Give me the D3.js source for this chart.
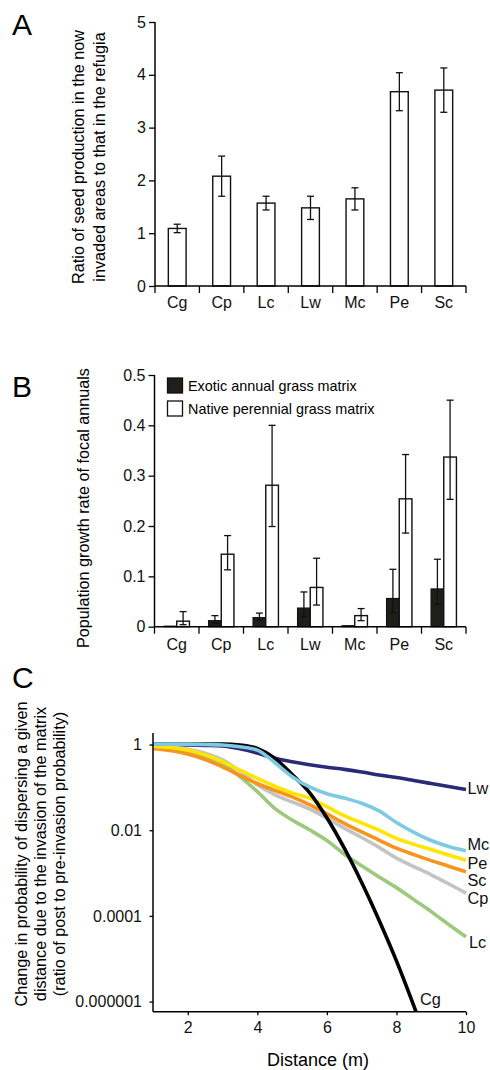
<!DOCTYPE html>
<html><head><meta charset="utf-8">
<script src="https://cdn.jsdelivr.net/npm/d3@7"></script>
<style>
html,body{margin:0;padding:0;background:#fff;}
svg{display:block;font-family:"Liberation Sans",Arial,Helvetica,sans-serif;}
</style></head>
<body><svg id="chart" width="490" height="1070"></svg>
<script>
// ---------- Data ----------
const species = ["Cg","Cp","Lc","Lw","Mc","Pe","Sc"];

// Panel A: ratio of seed production (invaded / refugia)
const ratioMean = [1.09, 2.08, 1.57, 1.48, 1.65, 3.68, 3.71];
const ratioErr  = [0.08, 0.38, 0.13, 0.22, 0.21, 0.36, 0.42];
const ticksA = [0,1,2,3,4,5];

// Panel B: population growth rate
const exoticMean = [0.001, 0.012, 0.018, 0.037, 0.002, 0.056, 0.075];
const exoticLow  = [null, 0.007, 0.013, 0.019, null, 0.028, 0.044];
const exoticHigh = [null, 0.022, 0.027, 0.069, null, 0.114, 0.134];
const nativeMean = [0.011, 0.144, 0.281, 0.078, 0.022, 0.254, 0.337];
const nativeLow  = [0.004, 0.113, 0.199, 0.043, 0.012, 0.186, 0.253];
const nativeHigh = [0.030, 0.181, 0.400, 0.136, 0.036, 0.342, 0.450];
const ticksB = [0,0.1,0.2,0.3,0.4,0.5];
const legendB = ["Exotic annual grass matrix","Native perennial grass matrix"];

// Panel C: change in dispersal probability (log10 of ratio) vs distance
const distance = [1, 2, 2.5, 3, 3.5, 4, 4.5, 5, 5.5, 6, 6.5, 7, 7.5, 8, 8.5, 9, 9.5, 10];
const curveNames = ["Lw","Lc","Cp","Sc","Pe","Cg","Mc"];
const logLw = [0.0, -0.01, -0.02, -0.035, -0.1, -0.2, -0.32, -0.4, -0.47, -0.53, -0.58, -0.64, -0.71, -0.77, -0.84, -0.91, -0.98, -1.05];
const logLc = [-0.05, -0.17, -0.28, -0.44, -0.75, -1.1, -1.49, -1.76, -1.99, -2.24, -2.56, -2.83, -3.09, -3.34, -3.62, -3.9, -4.2, -4.49];
const logCp = [-0.01, -0.11, -0.2, -0.36, -0.62, -0.94, -1.17, -1.34, -1.5, -1.72, -1.95, -2.17, -2.4, -2.65, -2.85, -3.04, -3.25, -3.47];
const logSc = [-0.09, -0.22, -0.35, -0.52, -0.72, -0.91, -1.07, -1.22, -1.4, -1.62, -1.84, -2.04, -2.23, -2.42, -2.57, -2.71, -2.84, -2.97];
const logPe = [-0.04, -0.13, -0.24, -0.4, -0.6, -0.79, -0.97, -1.13, -1.25, -1.45, -1.66, -1.83, -2.0, -2.19, -2.33, -2.45, -2.58, -2.7];
const logCg = [0.01, 0.01, 0.01, 0.01, -0.01, -0.09, -0.32, -0.7, -1.12, -1.71, -2.42, -3.22, -4.1, -5.05, -6.1, -7.2, -8.3, -9.4];
const logMc = [0.01, 0.01, 0.0, -0.01, -0.05, -0.13, -0.42, -0.75, -0.99, -1.15, -1.25, -1.37, -1.55, -1.82, -2.05, -2.24, -2.38, -2.48];
const curveColors = {Lw:"#2a2a78", Lc:"#9cc97b", Cp:"#c3c3c3", Sc:"#f7941e", Pe:"#ffe500", Cg:"#000000", Mc:"#7ecae2"};
const ticksCx = [2,4,6,8,10];
const ticksCy = [1, 0.01, 0.0001, 0.000001];
const tickLabelsCy = ["1","0.01","0.0001","0.000001"];

// ---------- Drawing ----------
const svg = d3.select("#chart");
const FONT = "Liberation Sans, Arial, sans-serif";
const TICK_FS = 16, TITLE_FS = 16.2;

function styleAxis(g, fs){
  g.selectAll("path.domain").attr("stroke","#000").attr("stroke-width",1.5);
  g.selectAll(".tick line").attr("stroke","#000").attr("stroke-width",1.3);
  g.selectAll(".tick text").attr("font-size",fs).attr("font-family",FONT).attr("fill","#111");
}

function panelLetter(t,x,y){
  svg.append("text").attr("x",x).attr("y",y).attr("font-size",30).attr("font-family",FONT).text(t);
}

function categoryXAxis(xBand, yPos, labelY){
  const g = svg.append("g").attr("transform",`translate(0,${yPos})`);
  const r = xBand.range();
  g.append("line").attr("x1",r[0]).attr("x2",r[1]).attr("stroke","#000").attr("stroke-width",1.5);
  const bounds = species.map(s=>xBand(s)).concat([r[1]]);
  g.selectAll("line.b").data(bounds).join("line").attr("class","b")
    .attr("x1",d=>d).attr("x2",d=>d).attr("y1",0).attr("y2",7).attr("stroke","#000").attr("stroke-width",1.3);
  g.selectAll("text").data(species).join("text")
    .attr("x",d=>xBand(d)+xBand.bandwidth()/2).attr("y",labelY).attr("text-anchor","middle")
    .attr("font-size",TICK_FS).attr("font-family",FONT).attr("fill","#111").text(d=>d);
}

function errBar(x, lo, hi, cap){
  svg.append("line").attr("x1",x).attr("x2",x).attr("y1",lo).attr("y2",hi).attr("stroke","#111").attr("stroke-width",1.3);
  [lo,hi].forEach(y=>svg.append("line").attr("x1",x-cap).attr("x2",x+cap).attr("y1",y).attr("y2",y).attr("stroke","#111").attr("stroke-width",1.3));
}

// ----- Panel A -----
{
  const x = d3.scaleBand().domain(species).range([155,466]).padding(0);
  const y = d3.scaleLinear().domain([0,5]).range([286,22]);
  panelLetter("A",12,35);
  const bw = x.bandwidth()*0.4;
  species.forEach((s,i)=>{
    const cx = x(s)+x.bandwidth()/2;
    svg.append("rect").attr("x",cx-bw/2).attr("y",y(ratioMean[i])).attr("width",bw).attr("height",y(0)-y(ratioMean[i]))
      .attr("fill","#fff").attr("stroke","#111").attr("stroke-width",1.4);
    errBar(cx, y(ratioMean[i]-ratioErr[i]), y(ratioMean[i]+ratioErr[i]), 3.5);
  });
  const ga = svg.append("g").attr("transform","translate(155,0)")
    .call(d3.axisLeft(y).tickValues(ticksA).tickSize(6).tickPadding(3).tickFormat(d3.format("d")));
  styleAxis(ga,TICK_FS);
  ga.select("path.domain").attr("d","M0,22V286");
  categoryXAxis(x,286,22);
  const t = svg.append("text").attr("transform","translate(83.6,157) rotate(-90)").attr("text-anchor","middle")
    .attr("font-size",TITLE_FS).attr("font-family",FONT);
  t.append("tspan").attr("x",0).attr("dy",0).text("Ratio of seed production in the now");
  t.append("tspan").attr("x",0).attr("dy",21).text("invaded areas to that in the refugia");
}

// ----- Panel B -----
{
  const x = d3.scaleBand().domain(species).range([154.5,466]).padding(0);
  const y = d3.scaleLinear().domain([0,0.5]).range([626.7,375]);
  panelLetter("B",12,397);
  const bw = x.bandwidth()*0.285;
  species.forEach((s,i)=>{
    const cx = x(s)+x.bandwidth()/2;
    svg.append("rect").attr("x",cx-bw).attr("y",y(exoticMean[i])).attr("width",bw).attr("height",y(0)-y(exoticMean[i]))
      .attr("fill","#1e1e1a").attr("stroke","#111").attr("stroke-width",1.2);
    svg.append("rect").attr("x",cx).attr("y",y(nativeMean[i])).attr("width",bw).attr("height",y(0)-y(nativeMean[i]))
      .attr("fill","#fff").attr("stroke","#111").attr("stroke-width",1.4);
    if(exoticLow[i]!==null) errBar(cx-bw/2, y(exoticLow[i]), y(exoticHigh[i]), 3.5);
    errBar(cx+bw/2, y(nativeLow[i]), y(nativeHigh[i]), 3.5);
  });
  const gb = svg.append("g").attr("transform","translate(154.5,0)")
    .call(d3.axisLeft(y).tickValues(ticksB).tickSize(6).tickPadding(3).tickFormat(d=>d===0?"0":d3.format(".1f")(d)));
  styleAxis(gb,TICK_FS);
  gb.select("path.domain").attr("d","M0,375V626.7");
  categoryXAxis(x,626.7,23);
  // legend
  const lg = svg.append("g");
  legendB.forEach((lab,i)=>{
    lg.append("rect").attr("x",167.5).attr("y",378+i*23).attr("width",15).attr("height",15)
      .attr("fill",i===0?"#1e1e1a":"#fff").attr("stroke","#111").attr("stroke-width",1.3);
    lg.append("text").attr("x",188).attr("y",391+i*23).attr("font-size",14.4).attr("font-family",FONT).text(lab);
  });
  svg.append("text").attr("transform","translate(88.6,508) rotate(-90)").attr("text-anchor","middle")
    .attr("font-size",TITLE_FS).attr("font-family",FONT).text("Population growth rate of focal annuals");
}

// ----- Panel C -----
{
  const x = d3.scaleLinear().domain([1,10]).range([153,466]);
  const y = d3.scaleLog().domain([5.8e-7, 1.86]).range([1011.7,733]);
  panelLetter("C",12,688);
  svg.append("defs").append("clipPath").attr("id","clipC").append("rect")
    .attr("x",153).attr("y",720).attr("width",320).attr("height",1011.7-720);
  const series = {Lw:logLw, Lc:logLc, Cp:logCp, Sc:logSc, Pe:logPe, Cg:logCg, Mc:logMc};
  const line = d3.line().x(d=>x(d[0])).y(d=>y(Math.pow(10,d[1]))).curve(d3.curveMonotoneX);
  const gl = svg.append("g").attr("clip-path","url(#clipC)");
  curveNames.forEach(n=>{
    gl.append("path").datum(distance.map((d,i)=>[d,series[n][i]]))
      .attr("d",line).attr("fill","none").attr("stroke",curveColors[n]).attr("stroke-width",3.6)
      .attr("stroke-linejoin","round");
  });
  const gx = svg.append("g").attr("transform","translate(0,1011.7)")
    .call(d3.axisBottom(x).tickValues(ticksCx).tickSize(3.5).tickPadding(6).tickFormat(d3.format("d")));
  styleAxis(gx,TICK_FS);
  gx.select("path.domain").attr("d","M153,0H466");
  const gy = svg.append("g").attr("transform","translate(153,0)")
    .call(d3.axisLeft(y).tickValues(ticksCy).tickSize(3.5).tickPadding(7.5).tickFormat((d,i)=>tickLabelsCy[i]));
  styleAxis(gy,TICK_FS);
  gy.select("path.domain").attr("d","M0,733V1011.7");
  // end labels
  const endLabels = [["Lw",467.5,794],["Mc",467.5,850],["Pe",467.5,868.5],["Sc",467.5,885.5],["Cp",467.5,903.5],["Lc",469,948],["Cg",420,1005]];
  endLabels.forEach(([n,lx,ly])=>{
    svg.append("text").attr("x",lx).attr("y",ly).attr("font-size",16.3).attr("font-family",FONT).attr("fill","#111").text(n);
  });
  svg.append("text").attr("x",318).attr("y",1066).attr("text-anchor","middle").attr("font-size",18).attr("font-family",FONT).text("Distance (m)");
  const t = svg.append("text").attr("transform","translate(27.3,854) rotate(-90)").attr("text-anchor","middle")
    .attr("font-size",TITLE_FS).attr("font-family",FONT);
  t.append("tspan").attr("x",0).attr("dy",0).text("Change in probability of dispersing a given");
  t.append("tspan").attr("x",0).attr("dy",19).text("distance due to the invasion of the matrix");
  t.append("tspan").attr("x",0).attr("dy",19).text("(ratio of post to pre-invasion probability)");
}
</script></body></html>
